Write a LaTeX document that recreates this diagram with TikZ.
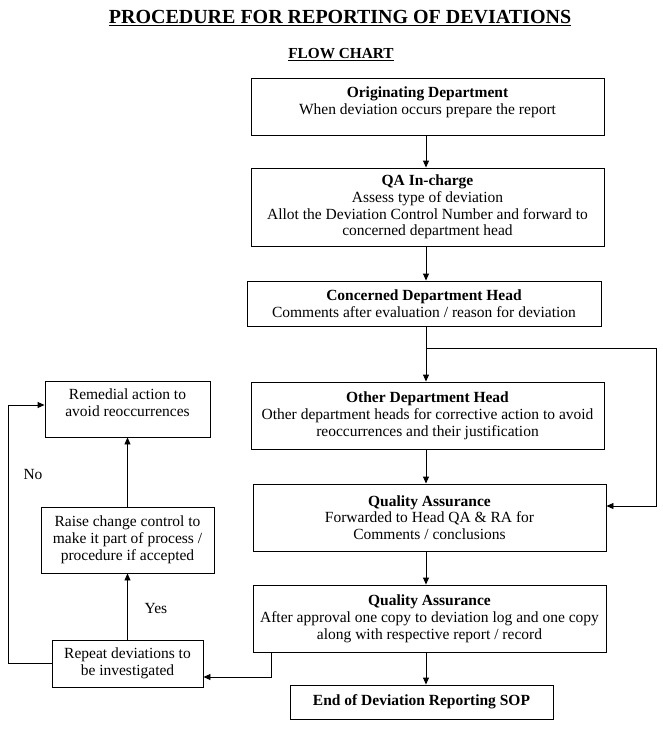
\documentclass[tikz,border=0pt]{standalone}
\usepackage{fontspec}
\setmainfont{Liberation Serif}
\usetikzlibrary{arrows.meta,calc}
\begin{document}
\begin{tikzpicture}[x=1pt,y=-1pt,
  box/.style={draw,line width=0.9pt,align=center,inner sep=0pt,font=\fontsize{15.5}{16.8}\selectfont},
  arr/.style={draw,line width=0.9pt,-{Triangle[length=7pt,width=6pt]}},
  ln/.style={draw,line width=0.9pt}]
\useasboundingbox (0,0) rectangle (662,736);
\fill[white] (0,0) rectangle (662,736);
\node[font=\fontsize{20}{22}\selectfont\bfseries] (title) at (340,18) {\underline{PROCEDURE FOR REPORTING OF DEVIATIONS}};
\node[font=\fontsize{15.3}{16}\selectfont\bfseries] (fc) at (341,55) {\underline{FLOW CHART}};
\node[box,minimum width=353pt,minimum height=57pt,text depth=12pt] (b1) at (427.5,106.5) {\textbf{Originating Department}\\When deviation occurs prepare the report};
\node[box,minimum width=353pt,minimum height=78pt] (b2) at (427.5,207) {\textbf{QA In-charge}\\Assess type of deviation\\Allot the Deviation Control Number and forward to\\concerned department head};
\node[box,minimum width=354pt,minimum height=45pt] (b3) at (424,303.5) {\textbf{Concerned Department Head}\\Comments after evaluation / reason for deviation};
\node[box,minimum width=353pt,minimum height=67pt] (b4) at (427.5,415.5) {\textbf{Other Department Head}\\Other department heads for corrective action to avoid\\reoccurrences and their justification};
\node[box,minimum width=353pt,minimum height=67pt] (b5) at (429.5,517.5) {\textbf{Quality Assurance}\\Forwarded to Head QA \& RA for\\Comments / conclusions};
\node[box,minimum width=353pt,minimum height=67pt] (b6) at (429.5,618.5) {\textbf{Quality Assurance}\\After approval one copy to deviation log and one copy\\along with respective report / record};
\node[box,minimum width=263pt,minimum height=34pt] (b7) at (421.5,702) {\textbf{End of Deviation Reporting SOP}};
\node[box,minimum width=165pt,minimum height=56pt,text depth=12pt] (rem) at (127.5,409) {Remedial action to\\avoid reoccurrences};
\node[box,minimum width=173pt,minimum height=66pt] (rai) at (127.5,540) {Raise change control to\\make it part of process /\\procedure if accepted};
\node[box,minimum width=151pt,minimum height=47pt] (rep) at (127.5,663.5) {Repeat deviations to\\be investigated};
\node[font=\fontsize{15.5}{16}\selectfont] (no) at (33,474) {No};
\node[font=\fontsize{15.5}{16}\selectfont] (yes) at (156,608) {Yes};
\coordinate (sp) at (426,0);
\coordinate (br) at (426,348);
\coordinate (rc) at (656,348);
\coordinate (lx) at (8,0);
\draw[arr] (b1.south -| sp) -- (b2.north -| sp);
\draw[arr] (b2.south -| sp) -- (b3.north -| sp);
\draw[arr] (b3.south -| sp) -- (b4.north -| sp);
\draw[arr] (b4.south -| sp) -- (b5.north -| sp);
\draw[arr] (b5.south -| sp) -- (b6.north -| sp);
\draw[arr] (b6.south -| sp) -- (b7.north -| sp);
\draw[arr] (br) -- (rc) |- ([yshift=11.5pt]b5.east);
\draw[arr] ([xshift=19pt]b6.south west) |- ([yshift=-13.5pt]rep.east);
\draw[arr] (rep.north) -- (rai.south);
\draw[arr] (rai.north) -- (rem.south);
\draw[arr] (rep.west) -- (rep.west -| lx) |- ([yshift=4pt]rem.west);
\end{tikzpicture}
\end{document}
